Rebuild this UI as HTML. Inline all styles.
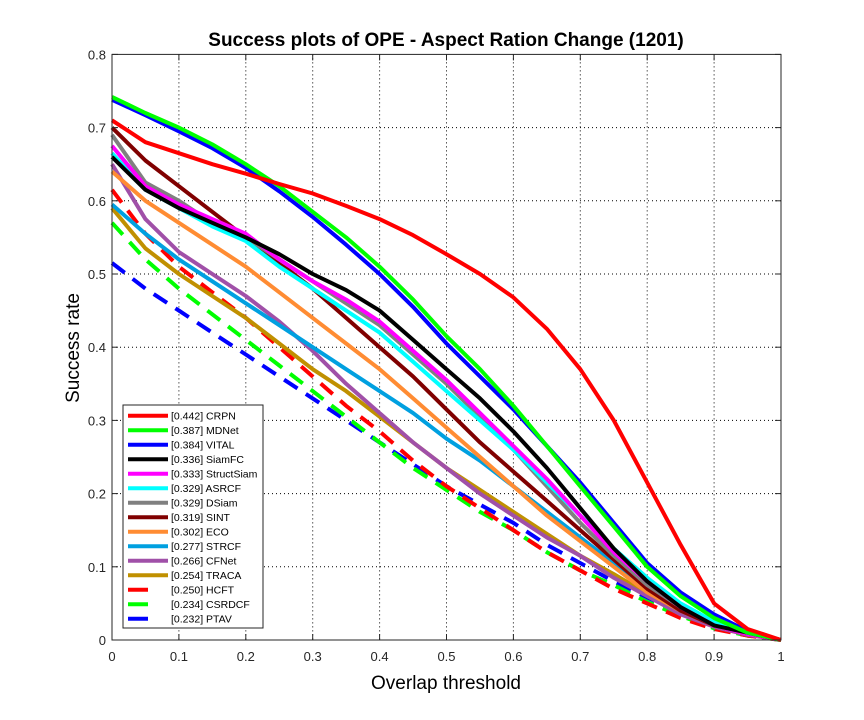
<!DOCTYPE html>
<html><head><meta charset="utf-8"><style>
body{margin:0;background:#fff}
svg{display:block;font-family:"Liberation Sans",sans-serif}
</style></head><body>
<svg id="chart" width="864" height="720" xmlns="http://www.w3.org/2000/svg">
<rect width="864" height="720" fill="#fff"/>
<text x="446" y="46" text-anchor="middle" font-size="19" font-weight="bold">Success plots of OPE - Aspect Ration Change (1201)</text>
<text x="446" y="689" text-anchor="middle" font-size="19">Overlap threshold</text>
<text transform="translate(79,348) rotate(-90)" text-anchor="middle" font-size="19">Success rate</text>
<g id="grid"></g><g id="series"></g><g id="axes"></g><g id="legend"></g>
</svg>
<script>
const xs=[0,0.05,0.1,0.15,0.2,0.25,0.3,0.35,0.4,0.45,0.5,0.55,0.6,0.65,0.7,0.75,0.8,0.85,0.9,0.95,1];
const names=["CRPN","MDNet","VITAL","SiamFC","StructSiam","ASRCF","DSiam","SINT","ECO","STRCF","CFNet","TRACA","HCFT","CSRDCF","PTAV"];
const scores=["0.442","0.387","0.384","0.336","0.333","0.329","0.329","0.319","0.302","0.277","0.266","0.254","0.250","0.234","0.232"];
const colors=["#ff0000","#00ff00","#0000ff","#000000","#ff00ff","#00ffff","#808080","#800000","#ff8c33","#00a0e0","#a050a8","#c09000","#ff0000","#00ff00","#0000ff"];
const dashed=[false,false,false,false,false,false,false,false,false,false,false,false,true,true,true];
const crpn=[0.71,0.68,0.665,0.65,0.637,0.623,0.61,0.593,0.575,0.553,0.527,0.5,0.468,0.425,0.37,0.3,0.215,0.13,0.05,0.015,0];
const mdnet=[0.742,0.72,0.7,0.677,0.65,0.62,0.585,0.55,0.51,0.465,0.415,0.37,0.32,0.265,0.21,0.155,0.1,0.06,0.03,0.01,0];
const vital=[0.738,0.717,0.695,0.672,0.645,0.613,0.578,0.54,0.5,0.455,0.405,0.36,0.315,0.265,0.215,0.16,0.105,0.065,0.035,0.012,0];
const siamfc=[0.66,0.615,0.59,0.57,0.55,0.527,0.5,0.478,0.45,0.41,0.37,0.33,0.285,0.235,0.18,0.125,0.08,0.045,0.02,0.01,0];
const structsiam=[0.675,0.62,0.595,0.575,0.555,0.52,0.49,0.465,0.435,0.395,0.355,0.31,0.265,0.22,0.17,0.12,0.08,0.045,0.02,0.008,0];
const asrcf=[0.665,0.615,0.59,0.565,0.545,0.51,0.48,0.45,0.42,0.38,0.34,0.3,0.26,0.215,0.17,0.125,0.085,0.05,0.025,0.01,0];
const dsiam=[0.69,0.625,0.6,0.57,0.55,0.52,0.49,0.46,0.43,0.39,0.35,0.305,0.26,0.21,0.16,0.115,0.075,0.045,0.022,0.008,0];
const sint=[0.7,0.655,0.62,0.585,0.55,0.515,0.48,0.44,0.4,0.36,0.315,0.27,0.23,0.19,0.15,0.11,0.07,0.04,0.02,0.008,0];
const eco=[0.64,0.6,0.57,0.54,0.51,0.475,0.44,0.405,0.37,0.33,0.29,0.25,0.21,0.17,0.135,0.1,0.065,0.04,0.02,0.008,0];
const strcf=[0.595,0.555,0.52,0.49,0.46,0.43,0.4,0.37,0.34,0.31,0.275,0.245,0.21,0.175,0.14,0.105,0.07,0.045,0.025,0.01,0];
const cfnet=[0.65,0.575,0.53,0.5,0.47,0.435,0.395,0.35,0.31,0.27,0.235,0.2,0.17,0.14,0.115,0.085,0.06,0.035,0.018,0.007,0];
const traca=[0.59,0.535,0.5,0.47,0.44,0.405,0.37,0.34,0.305,0.27,0.235,0.205,0.175,0.145,0.115,0.09,0.063,0.04,0.02,0.008,0];
const hcft=[0.615,0.555,0.51,0.475,0.44,0.4,0.36,0.32,0.285,0.245,0.21,0.18,0.15,0.12,0.095,0.07,0.05,0.03,0.015,0.006,0];
const csrdcf=[0.57,0.52,0.48,0.445,0.41,0.375,0.34,0.305,0.27,0.235,0.205,0.175,0.15,0.12,0.095,0.075,0.052,0.033,0.016,0.006,0];
const ptav=[0.515,0.48,0.45,0.42,0.39,0.36,0.33,0.3,0.27,0.24,0.21,0.185,0.16,0.13,0.105,0.08,0.058,0.038,0.02,0.008,0];
const xTicks=[0,0.1,0.2,0.3,0.4,0.5,0.6,0.7,0.8,0.9,1];
const xTickLabels=["0","0.1","0.2","0.3","0.4","0.5","0.6","0.7","0.8","0.9","1"];
const yTicks=[0,0.1,0.2,0.3,0.4,0.5,0.6,0.7,0.8];
const yTickLabels=["0","0.1","0.2","0.3","0.4","0.5","0.6","0.7","0.8"];
const seriesData=[crpn,mdnet,vital,siamfc,structsiam,asrcf,dsiam,sint,eco,strcf,cfnet,traca,hcft,csrdcf,ptav];

const L=112,R=781,B=640,T=54.4;
const sx=v=>L+(R-L)*v;
const sy=v=>B-(B-T)*v/0.8;
const NS="http://www.w3.org/2000/svg";
function mk(tag,parent){const e=document.createElementNS(NS,tag);parent.appendChild(e);return e;}
const grid=document.getElementById('grid'),axes=document.getElementById('axes'),ser=document.getElementById('series'),leg=document.getElementById('legend');

xTicks.forEach((t,i)=>{
  const x=sx(t);
  if(i>0&&i<xTicks.length-1){const g=mk('line',grid);g.setAttribute('x1',x);g.setAttribute('x2',x);g.setAttribute('y1',T);g.setAttribute('y2',B);g.setAttribute('stroke','#000');g.setAttribute('stroke-width','1');g.setAttribute('stroke-dasharray','1 3');
  
  }
  [[B,B-6],[T,T+6]].forEach(p=>{const k=mk('line',axes);k.setAttribute('x1',x);k.setAttribute('x2',x);k.setAttribute('y1',p[0]);k.setAttribute('y2',p[1]);k.setAttribute('stroke','#262626');
  
  });
  const tx=mk('text',axes);tx.textContent=xTickLabels[i];tx.setAttribute('x',x);tx.setAttribute('y',B+21);tx.setAttribute('text-anchor','middle');tx.setAttribute('font-size','13');tx.setAttribute('fill','#262626');
  
  
});
yTicks.forEach((t,i)=>{
  const y=sy(t);
  if(i>0&&i<yTicks.length-1){const g=mk('line',grid);g.setAttribute('x1',L);g.setAttribute('x2',R);g.setAttribute('y1',y);g.setAttribute('y2',y);g.setAttribute('stroke','#000');g.setAttribute('stroke-width','1');g.setAttribute('stroke-dasharray','1 3');
  
  }
  [[L,L+6],[R,R-6]].forEach(p=>{const k=mk('line',axes);k.setAttribute('x1',p[0]);k.setAttribute('x2',p[1]);k.setAttribute('y1',y);k.setAttribute('y2',y);k.setAttribute('stroke','#262626');
  
  });
  const tx=mk('text',axes);tx.textContent=yTickLabels[i];tx.setAttribute('x',L-6);tx.setAttribute('y',y+5);tx.setAttribute('text-anchor','end');tx.setAttribute('font-size','13');tx.setAttribute('fill','#262626');
  
  
});
const box=mk('rect',axes);box.setAttribute('x',L);box.setAttribute('y',T);box.setAttribute('width',R-L);box.setAttribute('height',B-T);box.setAttribute('fill','none');box.setAttribute('stroke','#262626');



for(let s=seriesData.length-1;s>=0;s--){
  const pts=seriesData[s].map((v,i)=>sx(xs[i]).toFixed(1)+','+sy(v).toFixed(1)).join(' ');
  const pl=mk('polyline',ser);pl.setAttribute('points',pts);pl.setAttribute('fill','none');pl.setAttribute('stroke',colors[s]);pl.setAttribute('stroke-width','4');pl.setAttribute('stroke-linejoin','round');
  if(dashed[s])pl.setAttribute('stroke-dasharray','16 10');
  
  
}

const lb=mk('rect',leg);lb.setAttribute('x',123);lb.setAttribute('y',405);lb.setAttribute('width',140);lb.setAttribute('height',223);lb.setAttribute('fill','#fff');lb.setAttribute('stroke','#262626');


names.forEach((n,i)=>{
  const y=415.7+i*14.5;
  const ln=mk('line',leg);ln.setAttribute('x1',128);ln.setAttribute('x2',dashed[i]?148:168);ln.setAttribute('y1',y);ln.setAttribute('y2',y);ln.setAttribute('stroke',colors[i]);ln.setAttribute('stroke-width','4');
  
  
  const tx=mk('text',leg);tx.textContent='['+scores[i]+'] '+n;tx.setAttribute('x',171);tx.setAttribute('y',y+4);tx.setAttribute('font-size','10.5');tx.setAttribute('fill','#000');
  
  
});
</script>
</body></html>
